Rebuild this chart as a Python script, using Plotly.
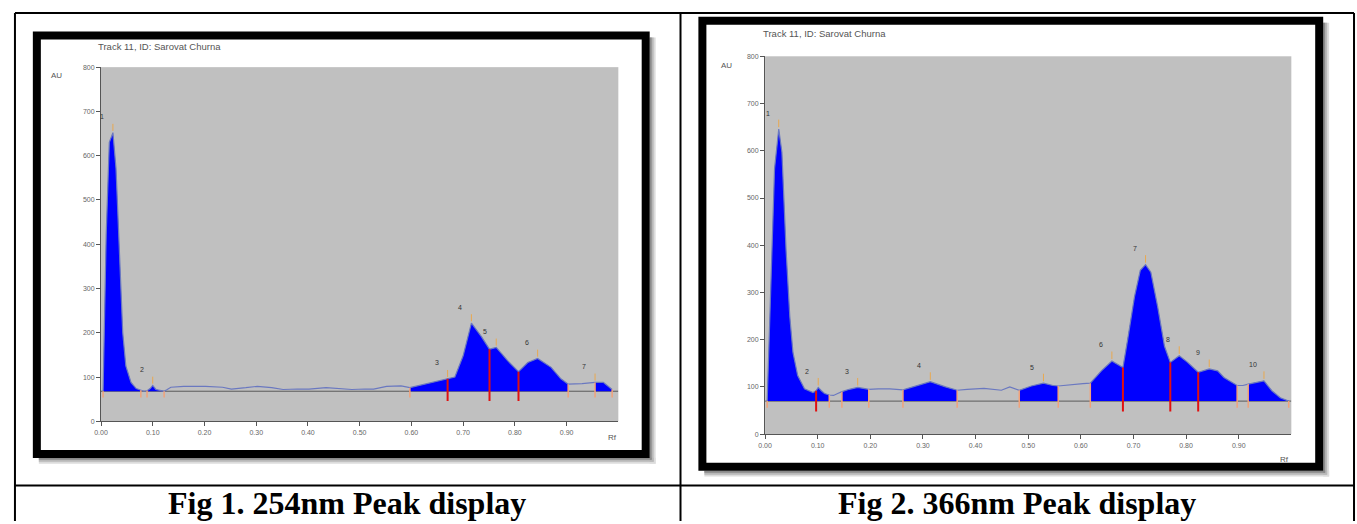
import numpy as np
import plotly.graph_objects as go

W, H = 1357, 524

# ---------------- data : 254 nm track ----------------
rf_254 = [0.004, 0.007, 0.010, 0.016, 0.023, 0.029, 0.036, 0.042, 0.048, 0.058,
          0.068, 0.077, 0.083, 0.089, 0.095, 0.100, 0.106, 0.114, 0.122, 0.128,
          0.135, 0.160, 0.202, 0.235, 0.252, 0.280, 0.302, 0.330, 0.352, 0.380,
          0.402, 0.435, 0.460, 0.485, 0.510, 0.527, 0.552, 0.580, 0.597, 0.620,
          0.645, 0.670, 0.684, 0.700, 0.716, 0.735, 0.751, 0.764, 0.786, 0.807,
          0.825, 0.844, 0.870, 0.889, 0.903, 0.930, 0.955, 0.971, 0.988]
au_254 = [68, 250, 422, 630, 652, 571, 348, 200, 125, 88,
          74, 70, 68, 69, 74, 81, 72, 70, 68, 72,
          77, 79, 79, 77, 73, 76, 79, 76, 72, 73,
          73, 76, 74, 72, 73, 73, 79, 80, 76, 82,
          90, 96, 100, 148, 222, 192, 163, 167, 137, 112,
          133, 142, 122, 96, 84, 85, 88, 88, 72]
peak_start_254 = [0.004, 0.089, 0.597, 0.670, 0.751, 0.807, 0.955]
peak_end_254 = [0.077, 0.122, 0.670, 0.751, 0.807, 0.903, 0.988]
baseline_254 = 68

# ---------------- data : 366 nm track ----------------
rf_366 = [0.004, 0.008, 0.012, 0.018, 0.026, 0.032, 0.040, 0.047, 0.053, 0.062,
          0.075, 0.091, 0.097, 0.101, 0.107, 0.113, 0.122, 0.130, 0.138, 0.146,
          0.160, 0.176, 0.187, 0.197, 0.215, 0.237, 0.262, 0.290, 0.314, 0.343,
          0.365, 0.384, 0.416, 0.449, 0.465, 0.483, 0.506, 0.529, 0.547, 0.557,
          0.580, 0.604, 0.618, 0.639, 0.659, 0.671, 0.680, 0.689, 0.702, 0.713,
          0.723, 0.733, 0.746, 0.759, 0.770, 0.787, 0.803, 0.823, 0.844, 0.860,
          0.872, 0.897, 0.908, 0.918, 0.935, 0.948, 0.963, 0.979, 0.995]
au_366 = [70, 200, 353, 562, 646, 597, 388, 249, 173, 124,
          96, 88, 92, 99, 92, 86, 83, 82, 86, 90,
          95, 99, 97, 95, 96, 96, 94, 103, 111, 100,
          93, 95, 97, 93, 100, 93, 102, 108, 103, 102,
          105, 107, 108, 134, 155, 148, 141, 200, 291, 347,
          359, 343, 270, 186, 152, 166, 152, 131, 138, 134,
          120, 103, 103, 106, 110, 113, 92, 77, 70]
peak_start_366 = [0.004, 0.097, 0.146, 0.262, 0.483, 0.618, 0.680, 0.770, 0.823, 0.918]
peak_end_366 = [0.097, 0.122, 0.197, 0.365, 0.557, 0.680, 0.770, 0.823, 0.897, 0.995]
baseline_366 = 70

y_ticks = [0, 100, 200, 300, 400, 500, 600, 700, 800]
x_ticks = [0.0, 0.1, 0.2, 0.3, 0.4, 0.5, 0.6, 0.7, 0.8, 0.9]
x_tick_labels = ["0.00", "0.10", "0.20", "0.30", "0.40", "0.50", "0.60", "0.70", "0.80", "0.90"]
track_title = "Track 11, ID: Sarovat Churna"
captions = ["Fig 1. 254nm Peak display", "Fig 2. 366nm Peak display"]


def fx(px):
    return px / W


def fy(py):
    return 1 - py / H


fig = go.Figure()
annotations = []


def add_track(rf, au, starts, ends, base, xa, ya):
    rf = np.asarray(rf, float)
    au = np.asarray(au, float)
    # baseline
    fig.add_trace(go.Scatter(x=[0, 1], y=[base, base], mode="lines",
                             line=dict(color="#5a5a5a", width=1),
                             xaxis=xa, yaxis=ya, hoverinfo="skip"))
    # filled peaks
    for s, e in zip(starts, ends):
        m = (rf >= s - 1e-9) & (rf <= e + 1e-9)
        xs = list(rf[m]) + [e, s, s]
        ys = list(au[m]) + [base, base, au[m][0]]
        fig.add_trace(go.Scatter(x=xs, y=ys, mode="lines", fill="toself",
                                 fillcolor="#0000ff", line=dict(width=0, color="#0000ff"),
                                 xaxis=xa, yaxis=ya, hoverinfo="skip"))
    # curve outline
    fig.add_trace(go.Scatter(x=rf, y=au, mode="lines",
                             line=dict(color="#6a78c0", width=1.2),
                             xaxis=xa, yaxis=ya, hoverinfo="skip"))
    # boundary markers
    bounds = sorted(set(list(starts) + list(ends)))
    shared = set(starts) & set(ends)
    rx, ry, ox, oy = [], [], [], []
    for b in bounds:
        top = float(np.interp(b, rf, au))
        if b in shared:
            rx += [b, b, None]
            ry += [top, base - 22, None]
        else:
            ox += [b, b, None]
            oy += [top, base - 14, None]
    fig.add_trace(go.Scatter(x=ox, y=oy, mode="lines",
                             line=dict(color="#f2a27a", width=1.5),
                             xaxis=xa, yaxis=ya, hoverinfo="skip"))
    fig.add_trace(go.Scatter(x=rx, y=ry, mode="lines",
                             line=dict(color="#e01010", width=2),
                             xaxis=xa, yaxis=ya, hoverinfo="skip"))
    # apex ticks + labels
    ax_, ay_ = [], []
    for i, (s, e) in enumerate(zip(starts, ends)):
        m = (rf >= s - 1e-9) & (rf <= e + 1e-9)
        k = int(np.argmax(au[m]))
        pr, pa = rf[m][k], au[m][k]
        ax_ += [pr, pr, None]
        ay_ += [pa + 4, pa + 20, None]
        annotations.append(dict(x=pr, y=pa, xref=xa, yref=ya, text=str(i + 1),
                                showarrow=False, xshift=-11, yshift=16,
                                font=dict(size=7, color="#333", family="Liberation Sans")))
    fig.add_trace(go.Scatter(x=ax_, y=ay_, mode="lines",
                             line=dict(color="#e8a850", width=1),
                             xaxis=xa, yaxis=ya, hoverinfo="skip"))


add_track(rf_254, au_254, peak_start_254, peak_end_254, baseline_254, "x", "y")
add_track(rf_366, au_366, peak_start_366, peak_end_366, baseline_366, "x2", "y2")

axis_common = dict(showgrid=False, zeroline=False, showline=True, linecolor="#555",
                   linewidth=1, ticks="outside", ticklen=4, tickcolor="#555",
                   tickfont=dict(size=7, color="#666", family="Liberation Sans"),
                   fixedrange=True)

fig.update_layout(
    width=W, height=H, autosize=False,
    margin=dict(l=0, r=0, t=0, b=0),
    paper_bgcolor="white", plot_bgcolor="#c0c0c0",
    showlegend=False,
    xaxis=dict(domain=[fx(94.5), fx(614.5)], range=[0, 1], tickvals=x_ticks,
               ticktext=x_tick_labels, anchor="y", **axis_common),
    yaxis=dict(domain=[fy(423), fy(64)], range=[0, 800], tickvals=y_ticks,
               anchor="x", **axis_common),
    xaxis2=dict(domain=[fx(762), fx(1291)], range=[0, 1], tickvals=x_ticks,
                ticktext=x_tick_labels, anchor="y2", **axis_common),
    yaxis2=dict(domain=[fy(436), fy(53)], range=[0, 800], tickvals=y_ticks,
                anchor="x2", **axis_common),
)

shapes = []
# table borders
tl = dict(color="black", width=2)
shapes.append(dict(type="line", xref="paper", yref="paper", x0=fx(8), x1=fx(1354), y0=fy(9), y1=fy(9), line=tl))
shapes.append(dict(type="line", xref="paper", yref="paper", x0=fx(8), x1=fx(1354), y0=fy(488), y1=fy(488), line=tl))
for xv in (8, 677, 1354):
    shapes.append(dict(type="line", xref="paper", yref="paper", x0=fx(xv), x1=fx(xv), y0=fy(9), y1=fy(524), line=tl))

# framed chart borders with soft shadow
for (x0, y0, x1, y1) in [(26, 28, 646, 460), (695, 13, 1323, 473)]:
    for off, col in [(6, "#dcdcdc"), (4, "#b8b8b8"), (2, "#8a8a8a")]:
        shapes.append(dict(type="rect", xref="paper", yref="paper",
                           x0=fx(x1), x1=fx(x1 + off), y0=fy(y1 + off), y1=fy(y0 + 6),
                           fillcolor=col, line=dict(width=0), layer="below"))
        shapes.append(dict(type="rect", xref="paper", yref="paper",
                           x0=fx(x0 + 6), x1=fx(x1 + off), y0=fy(y1 + off), y1=fy(y1),
                           fillcolor=col, line=dict(width=0), layer="below"))
    shapes.append(dict(type="rect", xref="paper", yref="paper",
                       x0=fx(x0 + 4), x1=fx(x1 - 4), y0=fy(y1 - 4), y1=fy(y0 + 4),
                       line=dict(color="black", width=8), fillcolor="rgba(0,0,0,0)"))

small = dict(size=9.5, color="#555", family="Liberation Sans")
for (tx, ty) in [(89, 43), (758, 30)]:
    annotations.append(dict(x=fx(tx), y=fy(ty), xref="paper", yref="paper", text=track_title,
                            showarrow=False, xanchor="left", yanchor="middle", font=small))
for (tx, ty) in [(50, 72), (723, 62)]:
    annotations.append(dict(x=fx(tx), y=fy(ty), xref="paper", yref="paper", text="AU",
                            showarrow=False, xanchor="center", yanchor="middle",
                            font=dict(size=8, color="#555", family="Liberation Sans")))
for (tx, ty) in [(609, 439), (1284, 462)]:
    annotations.append(dict(x=fx(tx), y=fy(ty), xref="paper", yref="paper", text="Rf",
                            showarrow=False, xanchor="center", yanchor="middle",
                            font=dict(size=8, color="#555", family="Liberation Sans")))
for cx, cap in zip([342, 1015], captions):
    annotations.append(dict(x=fx(cx), y=fy(506), xref="paper", yref="paper",
                            text="<b>" + cap + "</b>", showarrow=False,
                            xanchor="center", yanchor="middle",
                            font=dict(size=32, color="black", family="Liberation Serif")))

fig.update_layout(shapes=shapes, annotations=annotations)
fig.write_html("out.html", config={"displayModeBar": False},
               post_script="document.body.style.margin='0';document.body.style.overflow='hidden';")
